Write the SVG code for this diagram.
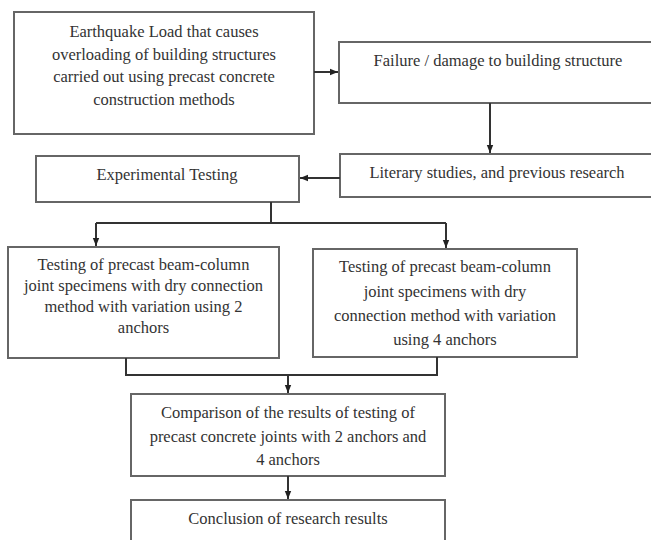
<svg xmlns="http://www.w3.org/2000/svg" width="651" height="540" viewBox="0 0 651 540">
<defs>
<style>
.box{fill:#fff;stroke:#666;stroke-width:2}
.t{font-family:"Liberation Serif","Times New Roman",serif;font-size:16.5px;fill:#333;text-anchor:middle}
.c{fill:none;stroke:#333;stroke-width:2}
</style>
<marker id="ah" markerUnits="userSpaceOnUse" markerWidth="8" markerHeight="8" viewBox="0 0 8 8" refX="8" refY="4" orient="auto">
<path d="M0,0.8 L8,4 L0,7.2 Z" fill="#222"/>
</marker>
</defs>
<rect width="651" height="540" fill="#fff"/>
<g id="n1">
<rect class="box" x="14" y="12" width="300" height="122"/>
<text class="t" x="164" y="37">Earthquake Load that causes</text>
<text class="t" x="164" y="60">overloading of building structures</text>
<text class="t" x="164" y="82">carried out using precast concrete</text>
<text class="t" x="164" y="105">construction methods</text>
</g>
<g id="n2">
<rect class="box" x="339" y="42" width="320" height="61"/>
<text class="t" x="498" y="66">Failure / damage to building structure</text>
</g>
<g id="n3">
<rect class="box" x="340" y="154" width="320" height="43"/>
<text class="t" x="497" y="178">Literary studies, and previous research</text>
</g>
<g id="n4">
<rect class="box" x="36" y="156" width="263" height="46"/>
<text class="t" x="167" y="180">Experimental Testing</text>
</g>
<g id="n5">
<rect class="box" x="8" y="247" width="271" height="111"/>
<text class="t" x="143.5" y="270">Testing of precast beam-column</text>
<text class="t" x="143.5" y="291">joint specimens with dry connection</text>
<text class="t" x="143.5" y="312">method with variation using 2</text>
<text class="t" x="143.5" y="333">anchors</text>
</g>
<g id="n6">
<rect class="box" x="313" y="249" width="264" height="108"/>
<text class="t" x="445" y="272">Testing of precast beam-column</text>
<text class="t" x="445" y="297">joint specimens with dry</text>
<text class="t" x="445" y="321">connection method with variation</text>
<text class="t" x="445" y="345">using 4 anchors</text>
</g>
<g id="n7">
<rect class="box" x="131" y="394" width="314" height="82"/>
<text class="t" x="288" y="418">Comparison of the results of testing of</text>
<text class="t" x="288" y="442">precast concrete joints with 2 anchors and</text>
<text class="t" x="288" y="465">4 anchors</text>
</g>
<g id="n8">
<rect class="box" x="131" y="500" width="314" height="50"/>
<text class="t" x="288" y="524">Conclusion of research results</text>
</g>
<g id="connectors">
<path class="c" d="M314,72 H338" marker-end="url(#ah)"/>
<path class="c" d="M490,103 V153" marker-end="url(#ah)"/>
<path class="c" d="M340,178 H300" stroke-width="3" marker-end="url(#ah)"/>
<path class="c" d="M271,202 V223"/>
<path class="c" d="M96,223 H446"/>
<path class="c" d="M96,223 V246" marker-end="url(#ah)"/>
<path class="c" d="M446,223 V248" marker-end="url(#ah)"/>
<path class="c" d="M126,358 V375 H437 V357"/>
<path class="c" d="M288,375 V393" marker-end="url(#ah)"/>
<path class="c" d="M288,476 V499" marker-end="url(#ah)"/>
</g>
</svg>
